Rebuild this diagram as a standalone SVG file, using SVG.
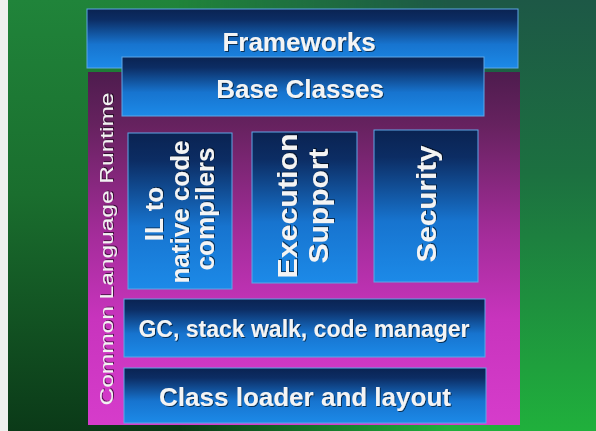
<svg xmlns="http://www.w3.org/2000/svg" width="596" height="431" viewBox="0 0 596 431">
  <defs>
    <!-- green backdrop: bright top-left fading dark at bottom-left -->
    <linearGradient id="greenLeft" x1="0" y1="0" x2="0" y2="1">
      <stop offset="0" stop-color="#20843a"/>
      <stop offset="0.45" stop-color="#1a6e2e"/>
      <stop offset="1" stop-color="#0b3a18"/>
    </linearGradient>
    <!-- dark teal at top-right brightening toward the bottom -->
    <linearGradient id="greenRight" x1="0" y1="0" x2="0" y2="1">
      <stop offset="0" stop-color="#1d5846"/>
      <stop offset="0.4" stop-color="#1c7040"/>
      <stop offset="1" stop-color="#20b03c"/>
    </linearGradient>
    <linearGradient id="fadeX" x1="0" y1="0" x2="1" y2="0">
      <stop offset="0.3" stop-color="#fff" stop-opacity="0"/>
      <stop offset="0.75" stop-color="#fff" stop-opacity="1"/>
    </linearGradient>
    <mask id="rightMask">
      <rect x="0" y="0" width="596" height="431" fill="url(#fadeX)"/>
    </mask>
    <!-- block fill: navy top, bright blue bottom -->
    <linearGradient id="blue" x1="0" y1="0" x2="0" y2="1">
      <stop offset="0" stop-color="#0a2352"/>
      <stop offset="0.18" stop-color="#0c2d64"/>
      <stop offset="0.6" stop-color="#1774cf"/>
      <stop offset="1" stop-color="#1c8ae8"/>
    </linearGradient>
    <!-- runtime frame: dark plum at top, magenta at bottom -->
    <linearGradient id="purple" gradientUnits="userSpaceOnUse" x1="0" y1="72" x2="0" y2="425">
      <stop offset="0" stop-color="#4e1c4e"/>
      <stop offset="0.15" stop-color="#66225f"/>
      <stop offset="0.45" stop-color="#a22c98"/>
      <stop offset="0.7" stop-color="#c834bd"/>
      <stop offset="1" stop-color="#d63ccb"/>
    </linearGradient>
    <filter id="shadow" x="-10%" y="-30%" width="120%" height="160%">
      <feDropShadow dx="1" dy="1" stdDeviation="0.7" flood-color="#000" flood-opacity="0.6"/>
    </filter>
    <style>
      .box { fill: url(#blue); stroke: #5ea6e6; stroke-width: 1; }
      .lbl { font-family: "Liberation Sans", Arial, sans-serif; font-weight: bold; fill: #f4f4f4; text-anchor: middle; filter: url(#shadow); }
      .side { font-family: "Liberation Sans", Arial, sans-serif; fill: #f2f2f2; text-anchor: middle; filter: url(#shadow); }
    </style>
  </defs>

  <!-- backdrop -->
  <rect x="0" y="0" width="596" height="431" fill="url(#greenLeft)"/>
  <rect x="0" y="0" width="596" height="431" fill="url(#greenRight)" mask="url(#rightMask)"/>
  <rect x="0" y="0" width="8" height="431" fill="#eef0ee"/>

  <g id="frameworks">
    <rect class="box" x="87" y="9" width="431" height="59"/>
    <text class="lbl" x="299" y="51" font-size="26">Frameworks</text>
  </g>

  <g id="clr">
    <rect x="88" y="72" width="432" height="353" fill="url(#purple)"/>
    <text class="side" font-size="18" textLength="313" lengthAdjust="spacingAndGlyphs" transform="translate(113,249) rotate(-90)">Common Language Runtime</text>
  </g>

  <g id="base-classes">
    <rect class="box" x="122" y="57" width="362" height="59"/>
    <text class="lbl" x="300" y="98" font-size="26">Base Classes</text>
  </g>

  <g id="il-compilers">
    <rect class="box" x="128" y="133" width="104" height="156"/>
    <text class="lbl" font-size="26" transform="translate(163,214) rotate(-90)">IL to</text>
    <text class="lbl" font-size="26" transform="translate(189,212) rotate(-90)">native code</text>
    <text class="lbl" font-size="26" transform="translate(214,209) rotate(-90)">compilers</text>
  </g>

  <g id="execution-support">
    <rect class="box" x="252" y="132" width="105" height="151"/>
    <text class="lbl" font-size="27" textLength="145" lengthAdjust="spacingAndGlyphs" transform="translate(297,206) rotate(-90)">Execution</text>
    <text class="lbl" font-size="27" textLength="115" lengthAdjust="spacingAndGlyphs" transform="translate(328,206) rotate(-90)">Support</text>
  </g>

  <g id="security">
    <rect class="box" x="374" y="130" width="104" height="152"/>
    <text class="lbl" font-size="27" textLength="117" lengthAdjust="spacingAndGlyphs" transform="translate(436,204) rotate(-90)">Security</text>
  </g>

  <g id="gc">
    <rect class="box" x="124" y="299" width="361" height="58"/>
    <text class="lbl" x="304" y="337" font-size="23">GC, stack walk, code manager</text>
  </g>

  <g id="class-loader">
    <rect class="box" x="124" y="368" width="362" height="55"/>
    <text class="lbl" x="305" y="406" font-size="26">Class loader and layout</text>
  </g>
</svg>
